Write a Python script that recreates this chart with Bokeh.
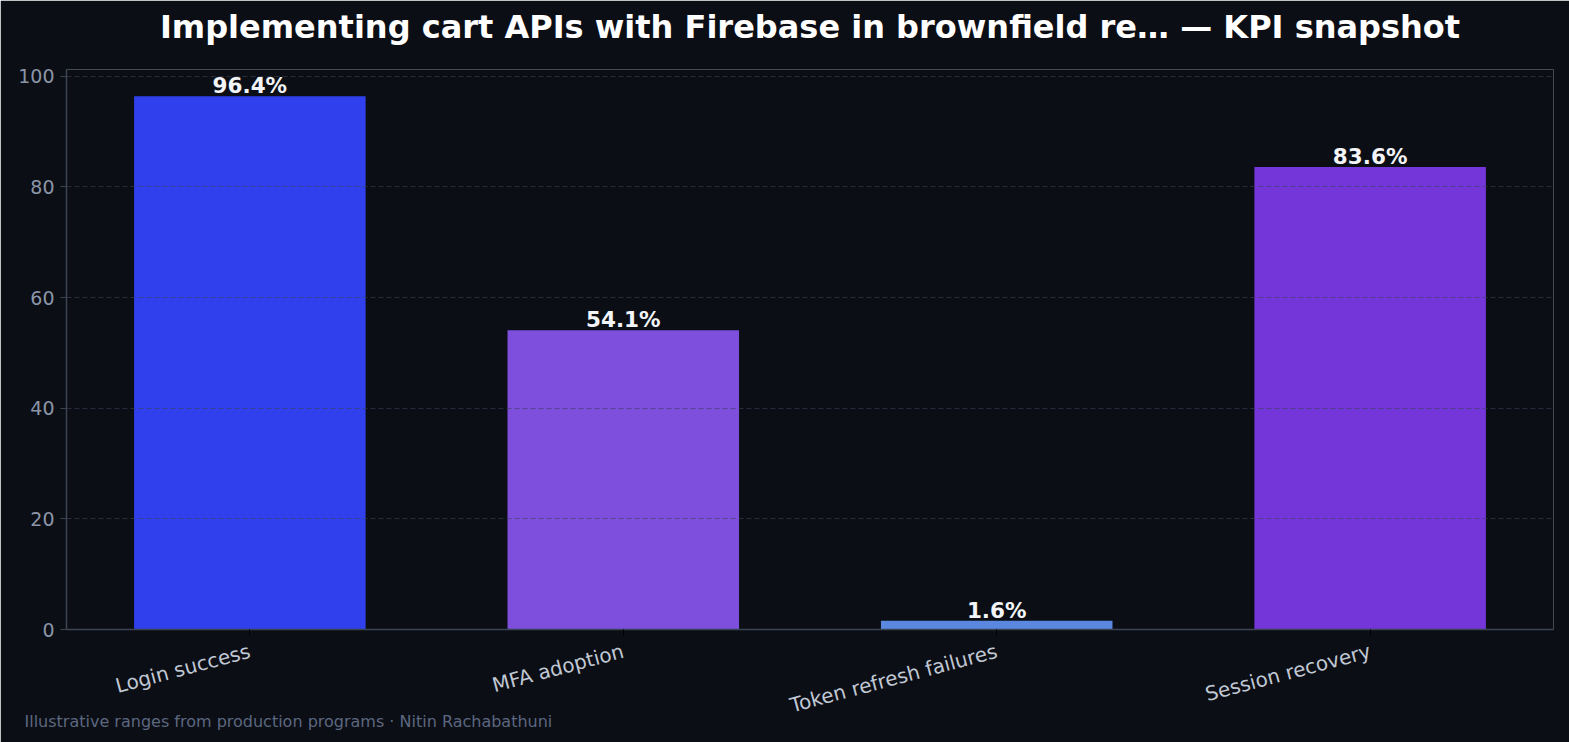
from bokeh.plotting import figure
from bokeh.models import Range1d, Title, ColumnDataSource, FixedTicker
from bokeh.embed import file_html
from bokeh.resources import INLINE
import math

categories = ["Login success", "MFA adoption", "Token refresh failures", "Session recovery"]
values = [96.4, 54.1, 1.6, 83.6]
colors = ["#2f40ec", "#7e4edd", "#5a88e0", "#7436d9"]
labels = [f"{v:.1f}%" for v in values]
y_ticks = [0, 20, 40, 60, 80, 100]
title = "Implementing cart APIs with Firebase in brownfield re\u2026 \u2014 KPI snapshot"
footer = "Illustrative ranges from production programs \u00b7 Nitin Rachabathuni"

BG = "#0b0e15"
FONT = "DejaVu Sans"

xs = list(range(len(categories)))
src = ColumnDataSource(dict(x=xs, top=values, color=colors, label=labels))

n = len(categories)
pad = 0.05 * (n - 1 + 0.62)
p = figure(width=1569, height=742,
           x_range=Range1d(-0.31 - pad, n - 1 + 0.31 + pad),
           y_range=Range1d(0, max(values) * 1.05), output_backend="svg", toolbar_location=None,
           background_fill_color=BG, border_fill_color=BG,
           min_border_left=66, min_border_right=16, min_border_top=69, min_border_bottom=113)
p.outline_line_color = None

p.vbar(x="x", top="top", width=0.62, fill_color="color", line_color=None, source=src)
p.text(x="x", y="top", text="label", source=src, text_align="center", text_baseline="bottom",
       text_color="#f2f4f8", text_font_style="bold", text_font_size="21.5px", y_offset=2,
       text_font={"value": FONT})

p.xgrid.grid_line_color = None
p.ygrid.grid_line_color = "#3a4358"
p.ygrid.grid_line_alpha = 0.6
p.ygrid.grid_line_dash = "5 3"
p.ygrid.grid_line_width = 1.2
p.ygrid.level = "annotation"

p.yaxis.ticker = FixedTicker(ticks=y_ticks)
p.xaxis.ticker = FixedTicker(ticks=xs)
p.xaxis.major_label_overrides = {i: c for i, c in enumerate(categories)}
for ax in (p.xaxis[0], p.yaxis[0]):
    ax.axis_line_color = "#3a4455"
    ax.axis_line_width = 1.5
    ax.major_tick_line_color = "#3a4455"
    ax.major_tick_out = 6
    ax.major_tick_in = 0
    ax.minor_tick_line_color = None
    ax.major_label_text_font = FONT
    ax.major_label_text_font_size = "19px"
p.xaxis.major_tick_line_color = "#000000"
p.yaxis.major_label_text_color = "#8b95a8"
p.xaxis.major_label_text_color = "#c0c8d4"
p.xaxis.major_label_text_font_size = "20px"
p.xaxis.major_label_orientation = math.radians(15)
p.xaxis.major_label_standoff = 15
p.yaxis.major_label_standoff = 6

p.title.text = title
p.title.align = "center"
p.title.vertical_align = "top"
p.title.text_font = FONT
p.title.text_font_size = "32px"
p.title.text_font_style = "bold"
p.title.text_color = "#ffffff"
p.title.standoff = 10

# spacer between the frame and the title
p.add_layout(Title(text=" ", text_font_size="1px", standoff=14), "above")

p.add_layout(Title(text=footer, align="left", vertical_align="top", offset=-42,
                   text_font=FONT, text_font_size="16px", text_font_style="normal",
                   text_color="#5c6780", standoff=-40), "below")

open("out.html", "w").write(file_html(p, INLINE))
